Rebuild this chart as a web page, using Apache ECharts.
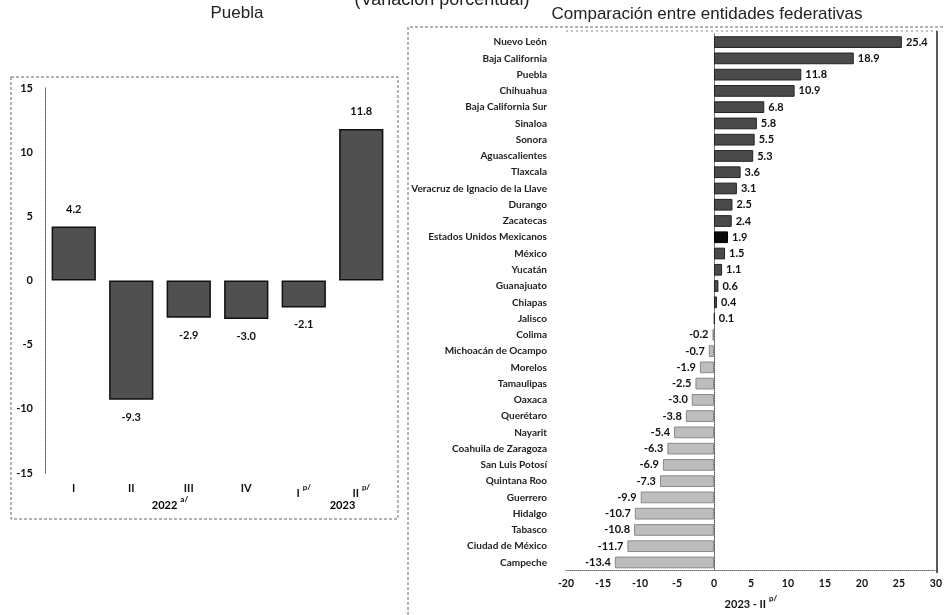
<!DOCTYPE html>
<html><head><meta charset="utf-8">
<script src="https://cdn.jsdelivr.net/npm/echarts@6/dist/echarts.min.js"></script>
<style>html,body{margin:0;padding:0;background:#fff}#c{width:945px;height:615px}</style>
</head><body><div id="c"></div>
<script>
const quarters = ['I', 'II', 'III', 'IV', 'I', 'II'];
const quarterSup = ['', '', '', '', 'p/', 'p/'];
const pueblaValues = [4.2, -9.3, -2.9, -3.0, -2.1, 11.8];
const years = ['2022', '2023'];
const yearSup = ['a/', ''];
const yearSpans = [[0, 3], [4, 5]];
const leftTicks = [-15, -10, -5, 0, 5, 10, 15];

const states = ['Nuevo León', 'Baja California', 'Puebla', 'Chihuahua', 'Baja California Sur', 'Sinaloa', 'Sonora', 'Aguascalientes', 'Tlaxcala', 'Veracruz de Ignacio de la Llave', 'Durango', 'Zacatecas', 'Estados Unidos Mexicanos', 'México', 'Yucatán', 'Guanajuato', 'Chiapas', 'Jalisco', 'Colima', 'Michoacán de Ocampo', 'Morelos', 'Tamaulipas', 'Oaxaca', 'Querétaro', 'Nayarit', 'Coahuila de Zaragoza', 'San Luis Potosí', 'Quintana Roo', 'Guerrero', 'Hidalgo', 'Tabasco', 'Ciudad de México', 'Campeche'];
const stateValues = [25.4, 18.9, 11.8, 10.9, 6.8, 5.8, 5.5, 5.3, 3.6, 3.1, 2.5, 2.4, 1.9, 1.5, 1.1, 0.6, 0.4, 0.1, -0.2, -0.7, -1.9, -2.5, -3.0, -3.8, -5.4, -6.3, -6.9, -7.3, -9.9, -10.7, -10.8, -11.7, -13.4];
const nationalName = 'Estados Unidos Mexicanos';

const FONT = 'Lato';
const chart = echarts.init(document.getElementById('c'));

const supRich = {
  base: {fontFamily: FONT, fontSize: 11, fontWeight: 'bold', color: '#111'},
  sup: {fontFamily: FONT, fontSize: 8, fontWeight: 'bold', color: '#111', verticalAlign: 'top', padding: [0, 0, 12, 3]}
};

chart.setOption({
  animation: false,
  backgroundColor: '#fff',
  textStyle: {fontFamily: FONT},
  grid: [
    {left: 45, top: 88, width: 345, height: 385},
    {left: 566, top: 34, right: 8, bottom: 42}
  ],
  xAxis: [
    {type: 'category', gridIndex: 0, data: quarters, position: 'bottom',
     axisLine: {show: false}, axisTick: {show: false},
     axisLabel: {margin: 10, interval: 0,
       formatter: (v, i) => quarterSup[i] ? '{base|' + v + '}{sup|' + quarterSup[i] + '}' : '{base|' + v + '}',
       rich: supRich}},
    {type: 'value', gridIndex: 1, min: -20, max: 30, interval: 5,
     axisLine: {show: true, lineStyle: {color: '#666', type: 'dotted'}},
     axisTick: {show: false}, splitLine: {show: false},
     axisLabel: {fontFamily: FONT, fontSize: 10.5, fontWeight: 'bold', color: '#111', margin: 8},
     name: '{base|2023 - II}{sup|p/}', nameLocation: 'middle', nameGap: 22,
     nameTextStyle: {rich: supRich}}
  ],
  yAxis: [
    {type: 'value', gridIndex: 0, min: -15, max: 15, interval: 5,
     axisLine: {show: true, lineStyle: {color: '#555', type: 'dotted'}},
     axisTick: {show: false}, splitLine: {show: false},
     axisLabel: {fontFamily: FONT, fontSize: 11, fontWeight: 'bold', color: '#111', margin: 12}},
    {type: 'category', gridIndex: 1, data: states, inverse: true,
     axisLine: {show: true, lineStyle: {color: '#555', type: 'dotted'}},
     axisTick: {show: false},
     axisLabel: {fontFamily: FONT, fontSize: 10, fontWeight: 'bold', color: '#222', margin: 19, interval: 0}}
  ],
  series: [
    {type: 'bar', xAxisIndex: 0, yAxisIndex: 0, data: pueblaValues, barCategoryGap: '23%',
     itemStyle: {color: '#505050', borderColor: '#111', borderWidth: 1.5},
     label: {show: true, position: 'outside', formatter: p => p.value.toFixed(1),
       fontFamily: FONT, fontSize: 11, fontWeight: 'bold', color: '#111', distance: 12}},
    {type: 'bar', xAxisIndex: 1, yAxisIndex: 1, barCategoryGap: '28%',
     data: stateValues.map((v, i) => ({
       value: v,
       itemStyle: states[i] === nationalName ? {color: '#0a0a0a', borderColor: '#000'} :
         (v >= 0 ? {color: '#4a4a4a', borderColor: '#222'} : {color: '#bdbdbd', borderColor: '#8a8a8a'}),
       label: {position: v >= 0 ? 'right' : 'left'}
     })),
     itemStyle: {borderWidth: 1},
     label: {show: true, formatter: p => p.value.toFixed(1), fontFamily: FONT, fontSize: 11,
       fontWeight: 'bold', color: '#111', distance: 4}}
  ]
});

// year labels centred under their quarter spans, positioned through the category scale
const yearGraphics = years.map((y, k) => {
  const a = chart.convertToPixel({xAxisIndex: 0}, yearSpans[k][0]);
  const b = chart.convertToPixel({xAxisIndex: 0}, yearSpans[k][1]);
  return {type: 'text', x: (a + b) / 2 + 10, y: 505, style: {
    text: yearSup[k] ? '{base|' + y + '}{sup|' + yearSup[k] + '}' : '{base|' + y + '}',
    rich: supRich, align: 'center', verticalAlign: 'middle'}};
});

chart.setOption({graphic: [
  {type: 'text', x: 442, y: -9, style: {text: '(Variación porcentual)', font: '18px "Liberation Sans Narrow", "Liberation Sans"', fill: '#222', align: 'center'}},
  {type: 'text', x: 237, y: 5, style: {text: 'Puebla', font: '17px "Liberation Sans Narrow", "Liberation Sans"', fill: '#222', align: 'center'}},
  {type: 'text', x: 707, y: 6, style: {text: 'Comparación entre entidades federativas', font: '17px "Liberation Sans Narrow", "Liberation Sans"', fill: '#222', align: 'center'}},
  {type: 'rect', shape: {x: 11, y: 77, width: 387, height: 442}, style: {fill: 'none', stroke: '#666', lineWidth: 1, lineDash: [3, 2]}},
  {type: 'polyline', shape: {points: [[408, 615], [408, 27], [945, 27]]}, style: {fill: 'none', stroke: '#666', lineWidth: 1, lineDash: [3, 2]}},
  {type: 'line', shape: {x1: 566, y1: 31, x2: 937, y2: 31}, style: {stroke: '#888', lineWidth: 1, lineDash: [2, 3]}},
  {type: 'line', shape: {x1: 937, y1: 31, x2: 937, y2: 573}, style: {stroke: '#222', lineWidth: 1.5}}
].concat(yearGraphics)});
</script></body></html>
